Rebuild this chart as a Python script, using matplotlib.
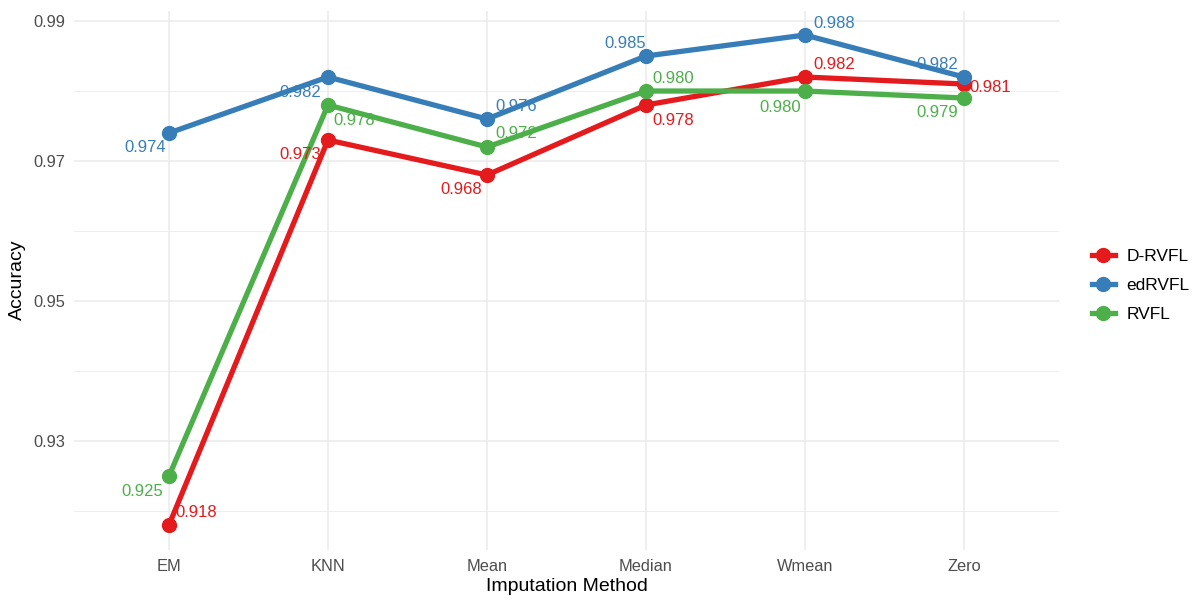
import matplotlib
matplotlib.use("Agg")
import matplotlib.pyplot as plt
from matplotlib.lines import Line2D

plt.rcParams['font.family'] = ['Liberation Sans', 'DejaVu Sans']

methods = ["EM", "KNN", "Mean", "Median", "Wmean", "Zero"]
series_names = ["D-RVFL", "edRVFL", "RVFL"]
d_rvfl = [0.918, 0.973, 0.968, 0.978, 0.982, 0.981]
ed_rvfl = [0.974, 0.982, 0.976, 0.985, 0.988, 0.982]
rvfl = [0.925, 0.978, 0.972, 0.980, 0.980, 0.979]
y_ticks = [0.93, 0.95, 0.97, 0.99]
y_minor = [0.92, 0.94, 0.96, 0.98]

colors = {"D-RVFL": "#E41A1C", "edRVFL": "#377EB8", "RVFL": "#4DAF4A"}
values = {"D-RVFL": d_rvfl, "edRVFL": ed_rvfl, "RVFL": rvfl}

# label offsets (pixels, dx, dy with y up) mimicking ggrepel placement
offsets = {
    "D-RVFL": [(27, 13), (-28, -14), (-26, -14), (27, -15), (29, 13), (26, -3)],
    "edRVFL": [(-24, -14), (-28, -15), (29, 13), (-21, 13), (29, 12), (-27, 13)],
    "RVFL": [(-27, -15), (26, -15), (29, 14), (27, 13), (-25, -16), (-27, -14)],
}

fig = plt.figure(figsize=(12, 6.08), dpi=100)
ax = fig.add_axes([0.0613, 0.0962, 0.8215, 0.8865])

x = list(range(1, len(methods) + 1))
for name in series_names:
    ax.plot(x, values[name], color=colors[name], lw=3.8, zorder=3,
            solid_capstyle='butt')
for name in series_names:
    ax.plot(x, values[name], 'o', color=colors[name], ms=10, zorder=4)
for name in series_names:
    for xi, yi, (dx, dy) in zip(x, values[name], offsets[name]):
        ax.annotate(f"{yi:.3f}", (xi, yi), xytext=(dx, dy),
                    textcoords='offset pixels', ha='center', va='center',
                    color=colors[name], fontsize=12, zorder=5)

ax.set_xlim(0.4, 6.6)
ax.set_ylim(0.9145, 0.9915)
ax.set_xticks(x)
ax.set_xticklabels(methods)
ax.set_yticks(y_ticks)
ax.set_yticklabels([f"{v:.2f}" for v in y_ticks])
ax.set_yticks(y_minor, minor=True)
ax.grid(True, which='major', color='#EBEBEB', lw=1.1, zorder=0)
ax.grid(True, which='minor', axis='y', color='#EBEBEB', lw=0.6, zorder=0)
ax.set_axisbelow(True)
for s in ax.spines.values():
    s.set_visible(False)
ax.tick_params(axis='both', which='both', length=0, labelsize=11.8,
               labelcolor='#4D4D4D')
ax.tick_params(axis='y', pad=6)
ax.tick_params(axis='x', pad=7)
ax.set_xlabel("Imputation Method", fontsize=14, labelpad=3)
ax.set_ylabel("Accuracy", fontsize=14, labelpad=5)

handles = [Line2D([0], [0], color=colors[n], lw=3.8, marker='o', ms=10)
           for n in series_names]
fig.legend(handles, series_names, loc='center left',
           bbox_to_anchor=(0.897, 0.53), frameon=False, fontsize=12.5,
           handlelength=1.3, labelspacing=0.8, handletextpad=0.7)

fig.savefig("out.png", dpi=100)
